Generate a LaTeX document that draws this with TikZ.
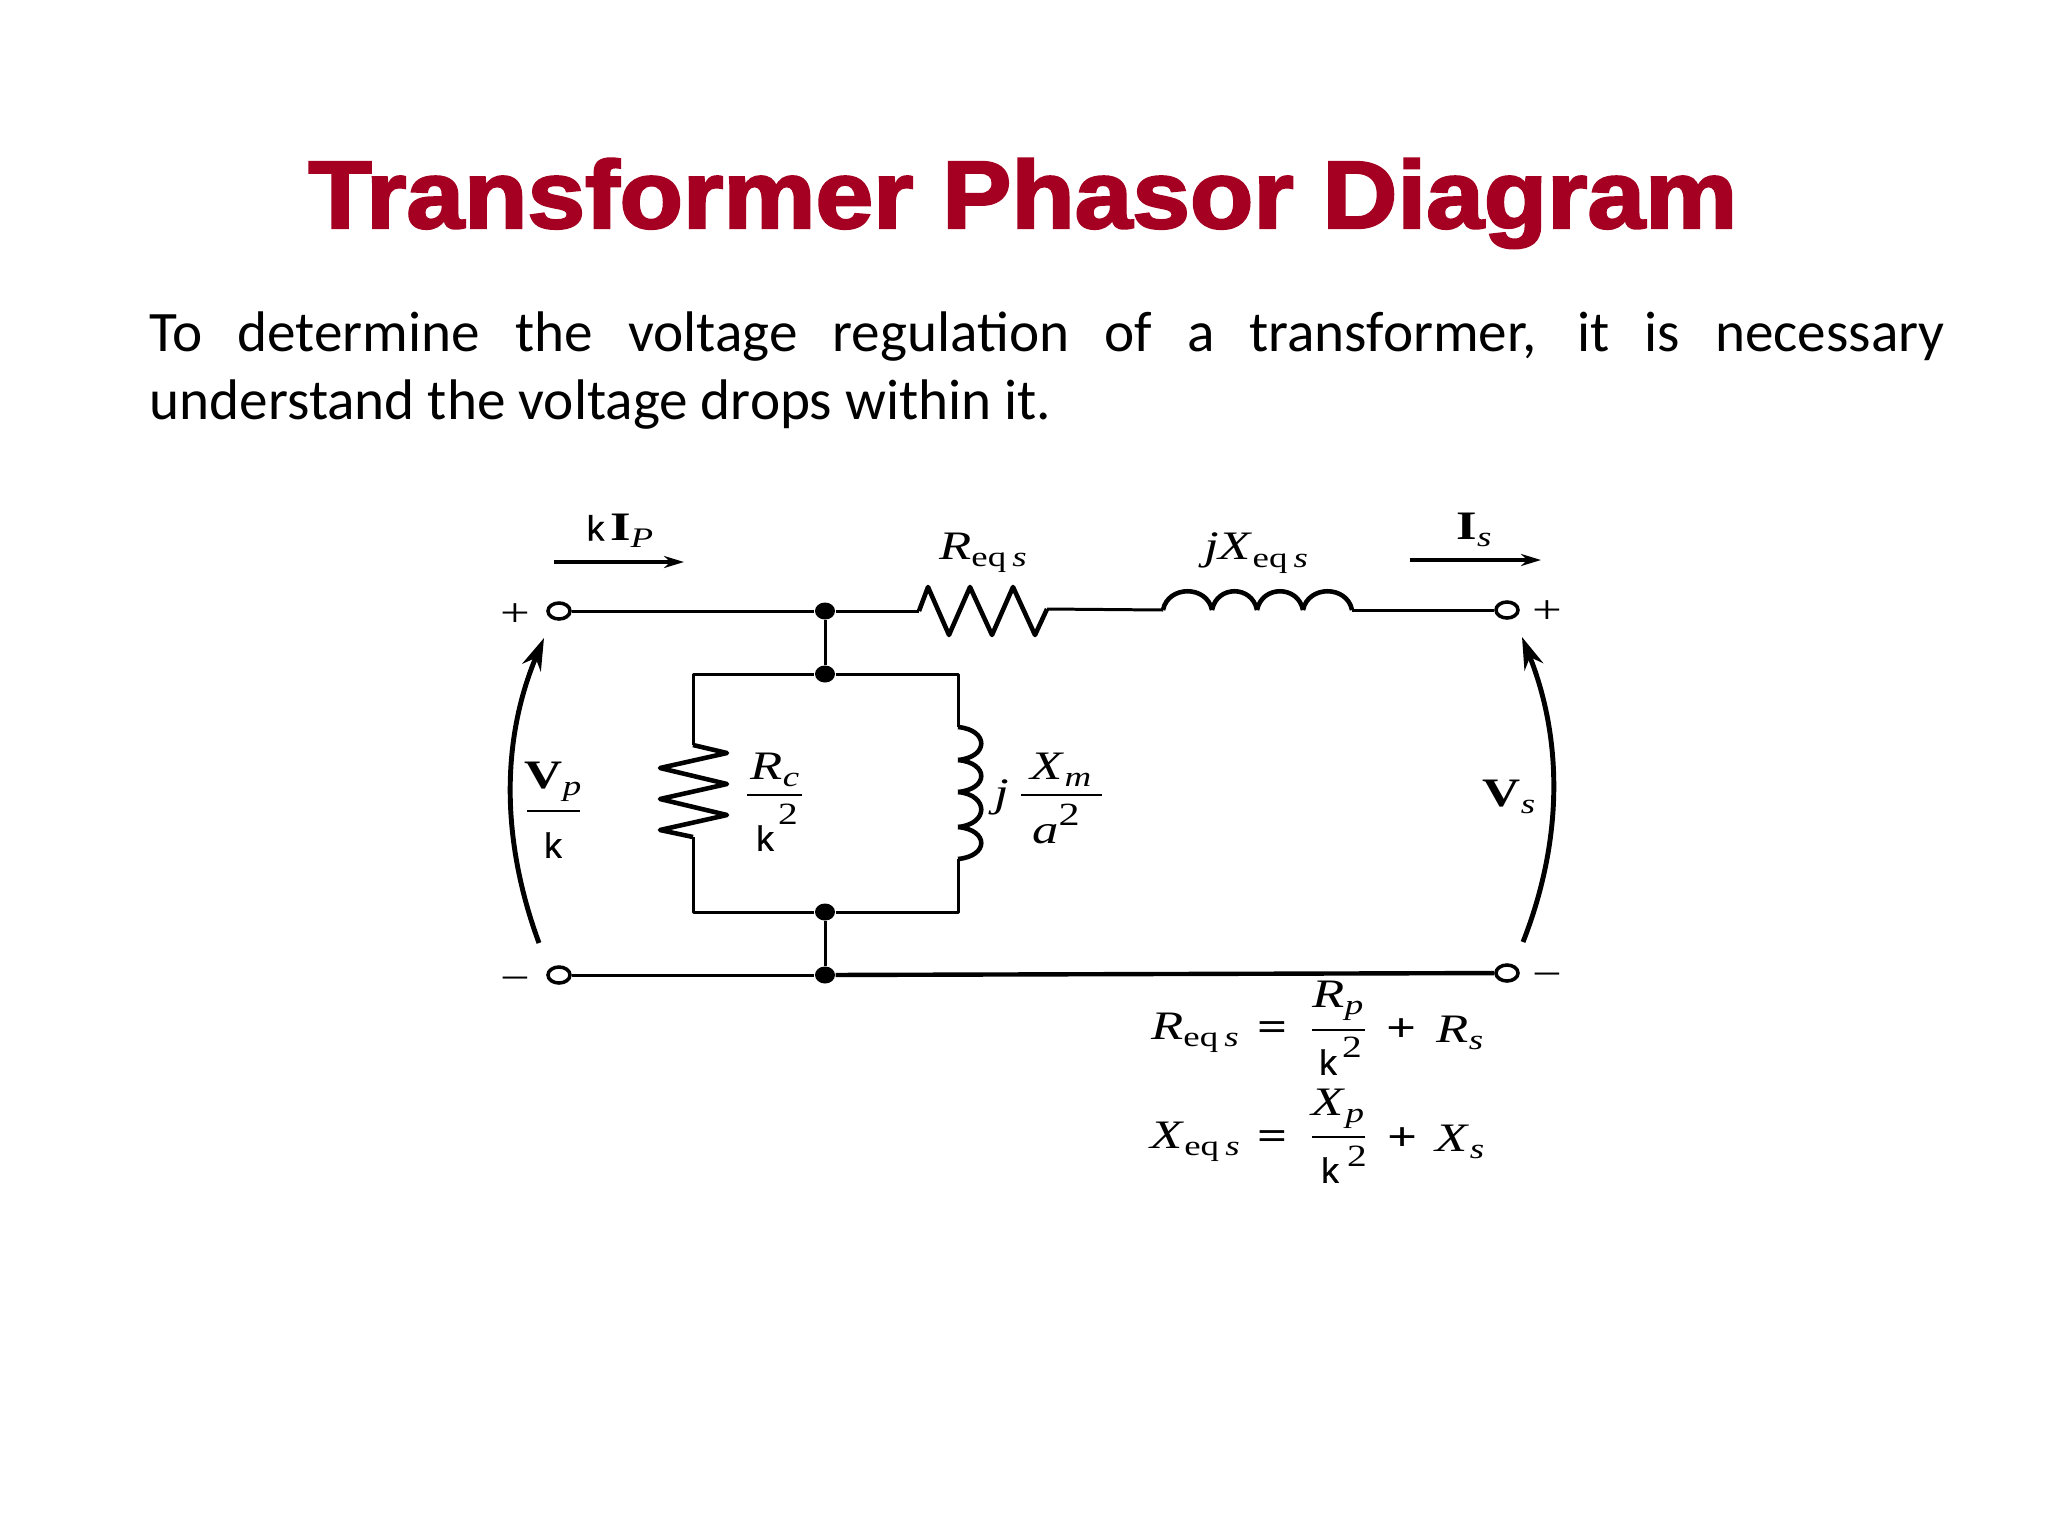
\documentclass[tikz,border=0pt]{standalone}
\usepackage{fontspec}
\usepackage{graphicx}
\usetikzlibrary{arrows.meta,shapes.geometric}
\setmainfont{Liberation Serif}
\newfontfamily\titlefont[FakeBold=2.4]{Liberation Sans Bold}
\newfontfamily\bodyfont{Carlito}
\newfontfamily\kfont[FakeBold=0.8]{Liberation Sans}
\definecolor{titlered}{RGB}{165,0,33}
\newcommand{\wide}[1]{\scalebox{1.5}[1.15]{#1}}
\newcommand{\subtext}[1]{\raisebox{-0.4ex}{\fontsize{7}{8}\selectfont #1}}
\newcommand{\eqs}{\subtext{eq\,\textit{s}}}
\newcommand{\letterk}{{\kfont\fontsize{10}{12}\selectfont k}}
\newcommand{\two}{\scalebox{1.4}[1.1]{\fontsize{8}{9}\selectfont 2}}
\tikzset{
  wire/.style={line width=0.85pt,line join=round},
  heavywire/.style={line width=1.25pt},
  coil/.style={line width=1.3pt,line join=round},
  terminal/.style={ellipse,draw,line width=1pt,fill=white,inner sep=0pt,minimum width=0.22cm,minimum height=0.16cm},
  junction/.style={ellipse,fill=black,inner sep=0pt,minimum width=0.2cm,minimum height=0.17cm},
  sym/.style={inner sep=0pt,font=\fontsize{10}{12}\selectfont},
  fracline/.style={line width=0.7pt},
  current/.style={line width=1.1pt,-{Stealth[length=0.2cm,width=0.12cm]}},
  voltage/.style={line width=1.4pt,-{Stealth[length=0.32cm,width=0.2cm]}}
}
\begin{document}
\begin{tikzpicture}[x=0.01cm,y=-0.01cm]
\useasboundingbox (0,0) rectangle (2048,1536);
\fill[white] (0,0) rectangle (2048,1536);
\node[anchor=base,inner sep=0pt,text=titlered,font=\titlefont\fontsize{27.3}{30}\selectfont] (title) at (1023,228) {\scalebox{1.08}[1]{Transformer Phasor Diagram}};
\node[anchor=north west,inner sep=0pt,text width=17.94cm,align=justify,font=\bodyfont\fontsize{16.27}{19.4}\selectfont] (intro) at (149,311) {To determine the voltage regulation of a transformer, it is necessary\linebreak understand the voltage drops within it.};
% terminals and junctions
\node[terminal] (tl) at (559,611) {};
\node[terminal] (tr) at (1507,610) {};
\node[terminal] (bl) at (559,975) {};
\node[terminal] (br) at (1507,973) {};
\node[junction] (ja) at (825,611) {};
\node[junction] (jb) at (825,674) {};
\node[junction] (jc) at (825,912) {};
\node[junction] (jd) at (825,975) {};
\coordinate (boxtl) at (693,674);
\coordinate (boxtr) at (958,674);
\coordinate (boxbl) at (693,912);
\coordinate (boxbr) at (958,912);
\coordinate (rsa) at (919,611);
\coordinate (rsb) at (1047,609);
\coordinate (lsa) at (1163,610);
\coordinate (lsb) at (1352,610);
\coordinate (rma) at (693,745);
\coordinate (rmb) at (693,837);
\coordinate (lma) at (958,727);
\coordinate (lmb) at (958,859);
% wires
\draw[wire] (tl) -- (ja) -- (rsa);
\draw[wire] (rsb) -- (lsa);
\draw[wire] (lsb) -- (tr);
\draw[wire] (ja) -- (jb);
\draw[wire] (jc) -- (jd);
\draw[wire] (rma) -- (boxtl) -- (jb) -- (boxtr) -- (lma);
\draw[wire] (rmb) -- (boxbl) -- (jc) -- (boxbr) -- (lmb);
\draw[wire] (bl) -- (jd);
\draw[heavywire] (jd) -- (br);
% resistors
\draw[coil] (rsa) -- (928,587) -- (949,635) -- (970,587) -- (992,635) -- (1013,587) -- (1035,635) -- (rsb);
\draw[coil] (rma) -- (727,753) -- (660,768) -- (727,784) -- (660,799) -- (727,815) -- (660,830) -- (rmb);
% inductors
\foreach \a/\b in {1163/1212,1212/1257,1257/1303,1303/1352}
  \draw[coil] (\a,610) .. controls (\a+5,585) and (\b-5,585) .. (\b,610);
\foreach \a/\b in {727/760,760/792,792/827,827/859}
  \draw[coil] (958,\a) .. controls (989,\a+3) and (989,\b-3) .. (958,\b);
% arrows
\coordinate (ipa) at (554,562);
\coordinate (ipb) at (684,562);
\coordinate (isa) at (1410,560);
\coordinate (isb) at (1541,560);
\coordinate (vpa) at (539,943);
\coordinate (vpb) at (544,638);
\coordinate (vsa) at (1523,942);
\coordinate (vsb) at (1522,637);
\draw[current] (ipa) -- (ipb);
\draw[current] (isa) -- (isb);
\draw[voltage] (vpa) .. controls (501,840) and (501,740) .. (vpb);
\draw[voltage] (vsa) .. controls (1563,840) and (1563,740) .. (vsb);
% polarity signs
\node[sym] (ptl) at (515,615) {\wide{+}};
\node[sym] (ptr) at (1547,612) {\wide{+}};
\node[sym] (mbl) at (515,984) {\wide{\textminus}};
\node[sym] (mbr) at (1547,980) {\wide{\textminus}};
% top labels
\node[sym] (kip) at (620,531) {\letterk\,\wide{\textbf{I}\subtext{\textit{P}}}};
\node[sym] (reqs) at (983,553) {\wide{\textit{R}\eqs}};
\node[sym] (xeqs) at (1256,553) {\wide{\textit{jX}\eqs}};
\node[sym] (is) at (1474,530) {\wide{\textbf{I}\subtext{\textit{s}}}};
% left fraction
\node[sym] (vp) at (553,782) {\wide{\textbf{V}\subtext{\textit{p}}}};
\node[sym] (vpk) at (553,845) {\letterk};
\coordinate (vpla) at (527,811);
\coordinate (vplb) at (580,811);
\draw[fracline] (vpla) -- (vplb);
% shunt labels
\node[sym] (rc) at (775,770) {\wide{\textit{R}\subtext{\textit{c}}}};
\node[sym] (rck) at (765,838) {\letterk};
\node[sym] (rctwo) at (788,814) {\two};
\coordinate (rcla) at (747,795);
\coordinate (rclb) at (802,795);
\draw[fracline] (rcla) -- (rclb);
\node[sym] (jj) at (1002,797) {\wide{\textit{j}}};
\node[sym] (xm) at (1061,770) {\wide{\textit{X}\subtext{\textit{m}}}};
\node[sym] (am) at (1056,824) {\wide{\textit{a}\raisebox{1ex}{\fontsize{8}{9}\selectfont 2}}};
\coordinate (xmla) at (1021,795);
\coordinate (xmlb) at (1102,795);
\draw[fracline] (xmla) -- (xmlb);
\node[sym] (vs) at (1509,797) {\wide{\textbf{V}\subtext{\textit{s}}}};
% equations
\node[sym] (reqn) at (1195,1033) {\wide{\textit{R}\eqs}};
\node[sym] (eqa) at (1273,1031) {\wide{\textbf{=}}};
\node[sym] (rp) at (1338,1001) {\wide{\textit{R}\subtext{\textit{p}}}};
\node[sym] (rpk) at (1328,1062) {\letterk};
\node[sym] (rptwo) at (1352,1047) {\two};
\coordinate (rpla) at (1312,1030);
\coordinate (rplb) at (1365,1030);
\draw[fracline] (rpla) -- (rplb);
\node[sym] (plusa) at (1402,1030) {\wide{\textbf{+}}};
\node[sym] (rs) at (1460,1033) {\wide{\textit{R}\subtext{\textit{s}}}};
\node[sym] (xeqn) at (1195,1142) {\wide{\textit{X}\eqs}};
\node[sym] (eqb) at (1273,1140) {\wide{\textbf{=}}};
\node[sym] (xp) at (1338,1109) {\wide{\textit{X}\subtext{\textit{p}}}};
\node[sym] (xpk) at (1330,1170) {\letterk};
\node[sym] (xptwo) at (1357,1156) {\two};
\coordinate (xpla) at (1312,1137);
\coordinate (xplb) at (1365,1137);
\draw[fracline] (xpla) -- (xplb);
\node[sym] (plusb) at (1403,1139) {\wide{\textbf{+}}};
\node[sym] (xs) at (1460,1142) {\wide{\textit{X}\subtext{\textit{s}}}};
\end{tikzpicture}
\end{document}
